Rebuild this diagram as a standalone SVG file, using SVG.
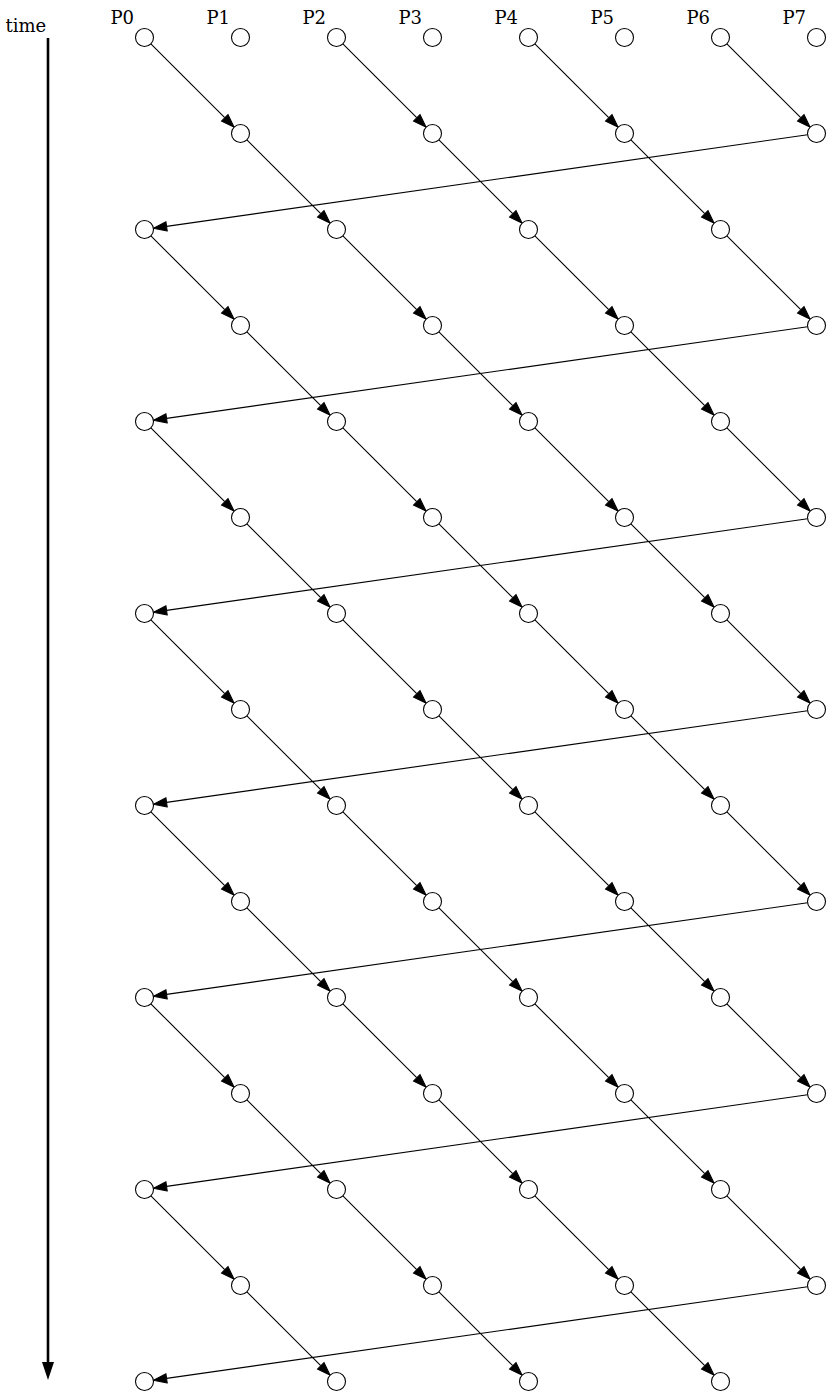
<svg xmlns="http://www.w3.org/2000/svg" width="832" height="1397" viewBox="0 0 832 1397">
<style>
.n circle{fill:#fff;stroke:#000;stroke-width:1.1}
.e path{fill:none;stroke:#000;stroke-width:1.1;marker-end:url(#ah)}
.lbl{font-family:"DejaVu Serif",serif;font-size:18px;fill:#000}
</style>
<defs>
<marker id="ah" markerUnits="userSpaceOnUse" markerWidth="15" markerHeight="11" viewBox="0 -5.5 15 11" refX="0" refY="0" orient="auto" overflow="visible">
<path d="M0,-4.6L13.3,0L0,4.6z" fill="#000" stroke="#000" stroke-width="1"/>
</marker>
<marker id="tah" markerUnits="userSpaceOnUse" markerWidth="19" markerHeight="13" viewBox="0 -6.5 19 13" refX="0" refY="0" orient="auto" overflow="visible">
<path d="M0,-6L18,0L0,6z" fill="#000"/>
</marker>
</defs>
<rect width="832" height="1397" fill="#fff"/>
<g id="axis">
<line x1="48" y1="38" x2="48" y2="1362" stroke="#000" stroke-width="2.6" marker-end="url(#tah)"/>
<text class="lbl" x="5.5" y="32">time</text>
</g>
<g id="labels">
<text class="lbl" x="110.5" y="23.5">P0</text>
<text class="lbl" x="206.5" y="23.5">P1</text>
<text class="lbl" x="302.5" y="23.5">P2</text>
<text class="lbl" x="398.5" y="23.5">P3</text>
<text class="lbl" x="494.5" y="23.5">P4</text>
<text class="lbl" x="590.5" y="23.5">P5</text>
<text class="lbl" x="686.5" y="23.5">P6</text>
<text class="lbl" x="782.5" y="23.5">P7</text>
</g>
<g id="edges" class="e">
<!-- row 0 -->
<path d="M150.86,43.86l73.87,73.87"/><path d="M342.86,43.86l73.87,73.87"/><path d="M534.86,43.86l73.87,73.87"/><path d="M726.86,43.86l73.87,73.87"/>
<!-- row 1 -->
<path d="M246.86,139.86l73.87,73.87"/><path d="M438.86,139.86l73.87,73.87"/><path d="M630.86,139.86l73.87,73.87"/><path d="M807.59,134.77l-641.01,91.58"/>
<!-- row 2 -->
<path d="M150.86,235.86l73.87,73.87"/><path d="M342.86,235.86l73.87,73.87"/><path d="M534.86,235.86l73.87,73.87"/><path d="M726.86,235.86l73.87,73.87"/>
<!-- row 3 -->
<path d="M246.86,331.86l73.87,73.87"/><path d="M438.86,331.86l73.87,73.87"/><path d="M630.86,331.86l73.87,73.87"/><path d="M807.59,326.77l-641.01,91.58"/>
<!-- row 4 -->
<path d="M150.86,427.86l73.87,73.87"/><path d="M342.86,427.86l73.87,73.87"/><path d="M534.86,427.86l73.87,73.87"/><path d="M726.86,427.86l73.87,73.87"/>
<!-- row 5 -->
<path d="M246.86,523.86l73.87,73.87"/><path d="M438.86,523.86l73.87,73.87"/><path d="M630.86,523.86l73.87,73.87"/><path d="M807.59,518.77l-641.01,91.58"/>
<!-- row 6 -->
<path d="M150.86,619.86l73.87,73.87"/><path d="M342.86,619.86l73.87,73.87"/><path d="M534.86,619.86l73.87,73.87"/><path d="M726.86,619.86l73.87,73.87"/>
<!-- row 7 -->
<path d="M246.86,715.86l73.87,73.87"/><path d="M438.86,715.86l73.87,73.87"/><path d="M630.86,715.86l73.87,73.87"/><path d="M807.59,710.77l-641.01,91.58"/>
<!-- row 8 -->
<path d="M150.86,811.86l73.87,73.87"/><path d="M342.86,811.86l73.87,73.87"/><path d="M534.86,811.86l73.87,73.87"/><path d="M726.86,811.86l73.87,73.87"/>
<!-- row 9 -->
<path d="M246.86,907.86l73.87,73.87"/><path d="M438.86,907.86l73.87,73.87"/><path d="M630.86,907.86l73.87,73.87"/><path d="M807.59,902.77l-641.01,91.58"/>
<!-- row 10 -->
<path d="M150.86,1003.86l73.87,73.87"/><path d="M342.86,1003.86l73.87,73.87"/><path d="M534.86,1003.86l73.87,73.87"/><path d="M726.86,1003.86l73.87,73.87"/>
<!-- row 11 -->
<path d="M246.86,1099.86l73.87,73.87"/><path d="M438.86,1099.86l73.87,73.87"/><path d="M630.86,1099.86l73.87,73.87"/><path d="M807.59,1094.77l-641.01,91.58"/>
<!-- row 12 -->
<path d="M150.86,1195.86l73.87,73.87"/><path d="M342.86,1195.86l73.87,73.87"/><path d="M534.86,1195.86l73.87,73.87"/><path d="M726.86,1195.86l73.87,73.87"/>
<!-- row 13 -->
<path d="M246.86,1291.86l73.87,73.87"/><path d="M438.86,1291.86l73.87,73.87"/><path d="M630.86,1291.86l73.87,73.87"/><path d="M807.59,1286.77l-641.01,91.58"/>
</g>
<g id="nodes" class="n">
<g id="r0p0"><circle cx="144.5" cy="37.5" r="9"/></g>
<g id="r0p1"><circle cx="240.5" cy="37.5" r="9"/></g>
<g id="r0p2"><circle cx="336.5" cy="37.5" r="9"/></g>
<g id="r0p3"><circle cx="432.5" cy="37.5" r="9"/></g>
<g id="r0p4"><circle cx="528.5" cy="37.5" r="9"/></g>
<g id="r0p5"><circle cx="624.5" cy="37.5" r="9"/></g>
<g id="r0p6"><circle cx="720.5" cy="37.5" r="9"/></g>
<g id="r0p7"><circle cx="816.5" cy="37.5" r="9"/></g>
<g id="r1p1"><circle cx="240.5" cy="133.5" r="9"/></g>
<g id="r1p3"><circle cx="432.5" cy="133.5" r="9"/></g>
<g id="r1p5"><circle cx="624.5" cy="133.5" r="9"/></g>
<g id="r1p7"><circle cx="816.5" cy="133.5" r="9"/></g>
<g id="r2p0"><circle cx="144.5" cy="229.5" r="9"/></g>
<g id="r2p2"><circle cx="336.5" cy="229.5" r="9"/></g>
<g id="r2p4"><circle cx="528.5" cy="229.5" r="9"/></g>
<g id="r2p6"><circle cx="720.5" cy="229.5" r="9"/></g>
<g id="r3p1"><circle cx="240.5" cy="325.5" r="9"/></g>
<g id="r3p3"><circle cx="432.5" cy="325.5" r="9"/></g>
<g id="r3p5"><circle cx="624.5" cy="325.5" r="9"/></g>
<g id="r3p7"><circle cx="816.5" cy="325.5" r="9"/></g>
<g id="r4p0"><circle cx="144.5" cy="421.5" r="9"/></g>
<g id="r4p2"><circle cx="336.5" cy="421.5" r="9"/></g>
<g id="r4p4"><circle cx="528.5" cy="421.5" r="9"/></g>
<g id="r4p6"><circle cx="720.5" cy="421.5" r="9"/></g>
<g id="r5p1"><circle cx="240.5" cy="517.5" r="9"/></g>
<g id="r5p3"><circle cx="432.5" cy="517.5" r="9"/></g>
<g id="r5p5"><circle cx="624.5" cy="517.5" r="9"/></g>
<g id="r5p7"><circle cx="816.5" cy="517.5" r="9"/></g>
<g id="r6p0"><circle cx="144.5" cy="613.5" r="9"/></g>
<g id="r6p2"><circle cx="336.5" cy="613.5" r="9"/></g>
<g id="r6p4"><circle cx="528.5" cy="613.5" r="9"/></g>
<g id="r6p6"><circle cx="720.5" cy="613.5" r="9"/></g>
<g id="r7p1"><circle cx="240.5" cy="709.5" r="9"/></g>
<g id="r7p3"><circle cx="432.5" cy="709.5" r="9"/></g>
<g id="r7p5"><circle cx="624.5" cy="709.5" r="9"/></g>
<g id="r7p7"><circle cx="816.5" cy="709.5" r="9"/></g>
<g id="r8p0"><circle cx="144.5" cy="805.5" r="9"/></g>
<g id="r8p2"><circle cx="336.5" cy="805.5" r="9"/></g>
<g id="r8p4"><circle cx="528.5" cy="805.5" r="9"/></g>
<g id="r8p6"><circle cx="720.5" cy="805.5" r="9"/></g>
<g id="r9p1"><circle cx="240.5" cy="901.5" r="9"/></g>
<g id="r9p3"><circle cx="432.5" cy="901.5" r="9"/></g>
<g id="r9p5"><circle cx="624.5" cy="901.5" r="9"/></g>
<g id="r9p7"><circle cx="816.5" cy="901.5" r="9"/></g>
<g id="r10p0"><circle cx="144.5" cy="997.5" r="9"/></g>
<g id="r10p2"><circle cx="336.5" cy="997.5" r="9"/></g>
<g id="r10p4"><circle cx="528.5" cy="997.5" r="9"/></g>
<g id="r10p6"><circle cx="720.5" cy="997.5" r="9"/></g>
<g id="r11p1"><circle cx="240.5" cy="1093.5" r="9"/></g>
<g id="r11p3"><circle cx="432.5" cy="1093.5" r="9"/></g>
<g id="r11p5"><circle cx="624.5" cy="1093.5" r="9"/></g>
<g id="r11p7"><circle cx="816.5" cy="1093.5" r="9"/></g>
<g id="r12p0"><circle cx="144.5" cy="1189.5" r="9"/></g>
<g id="r12p2"><circle cx="336.5" cy="1189.5" r="9"/></g>
<g id="r12p4"><circle cx="528.5" cy="1189.5" r="9"/></g>
<g id="r12p6"><circle cx="720.5" cy="1189.5" r="9"/></g>
<g id="r13p1"><circle cx="240.5" cy="1285.5" r="9"/></g>
<g id="r13p3"><circle cx="432.5" cy="1285.5" r="9"/></g>
<g id="r13p5"><circle cx="624.5" cy="1285.5" r="9"/></g>
<g id="r13p7"><circle cx="816.5" cy="1285.5" r="9"/></g>
<g id="r14p0"><circle cx="144.5" cy="1381.5" r="9"/></g>
<g id="r14p2"><circle cx="336.5" cy="1381.5" r="9"/></g>
<g id="r14p4"><circle cx="528.5" cy="1381.5" r="9"/></g>
<g id="r14p6"><circle cx="720.5" cy="1381.5" r="9"/></g>
</g>
</svg>
